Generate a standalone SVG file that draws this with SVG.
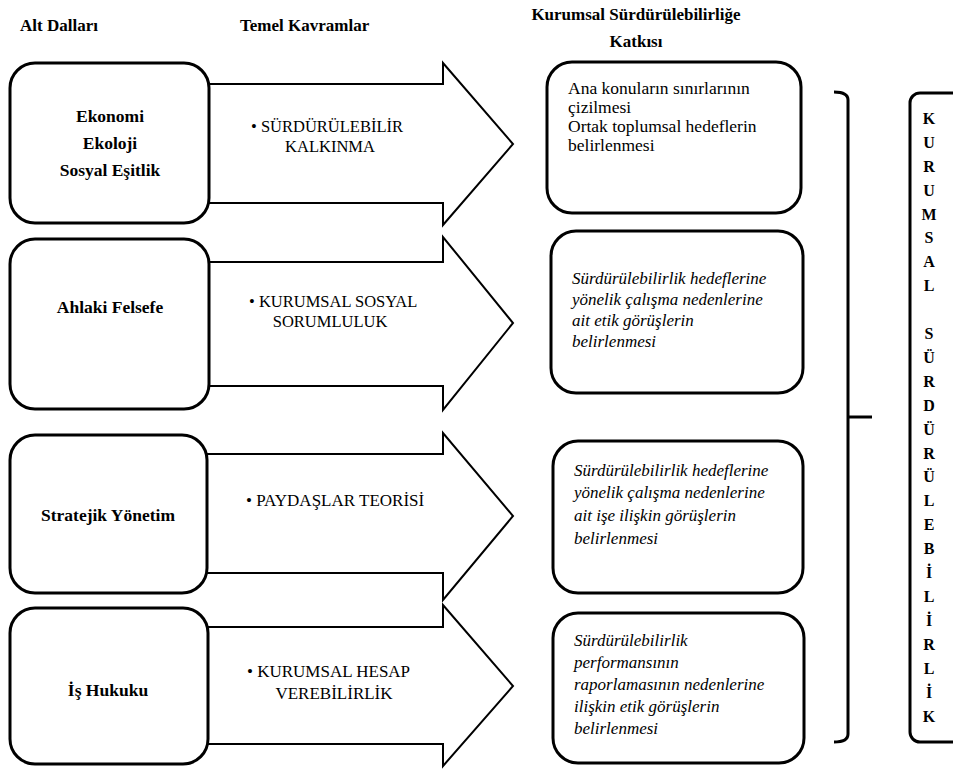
<svg xmlns="http://www.w3.org/2000/svg" width="953" height="769" viewBox="0 0 953 769">
<style>
text{font-family:"Liberation Serif","DejaVu Serif",serif;fill:#000}
.hd{font-size:17px;font-weight:bold}
.lb{font-size:17.5px;font-weight:bold;text-anchor:middle}
.ar{font-size:16.5px}
.ar2{font-size:17px}
.mid{text-anchor:middle}
.rt{font-size:17.5px}
.it{font-size:17px;font-style:italic}
.vt{font-size:16px;font-weight:bold;text-anchor:middle}
.box{fill:#fff;stroke:#000;stroke-width:3}
.arrow{fill:#fff;stroke:#000;stroke-width:2;stroke-linejoin:miter}
.br{fill:none;stroke:#000;stroke-width:3}
</style>
<rect width="953" height="769" fill="#fff"/>
<g id="headers">
<text class="hd" x="20" y="31">Alt Dalları</text>
<text class="hd" x="240" y="31">Temel Kavramlar</text>
<text class="hd" x="636" y="20" text-anchor="middle">Kurumsal Sürdürülebilirliğe</text>
<text class="hd" x="636" y="47" text-anchor="middle">Katkısı</text>
</g>
<g id="connectors">
<polygon class="arrow" points="200,84 443,84 443,63 513,144 443,225 443,203 200,203"/>
<polygon class="arrow" points="200,262 443,262 443,237 513,323 443,410 443,386 200,386"/>
<polygon class="arrow" points="200,454 443,454 443,433 513,516 443,600 443,573 200,573"/>
<polygon class="arrow" points="200,627 443,627 443,605 513,686 443,766 443,744 200,744"/>
<path class="br" d="M834,92 Q848,92 848,100 L848,734 Q848,742 834,742"/>
<path class="br" d="M848,417 L872,417"/>
</g>
<g id="node-ekonomi">
<rect class="box" x="10" y="63" width="199" height="160" rx="25"/>
<text class="lb" x="110" y="122">Ekonomi</text>
<text class="lb" x="110" y="149">Ekoloji</text>
<text class="lb" x="110" y="176">Sosyal Eşitlik</text>
</g>
<g id="node-ahlaki">
<rect class="box" x="10" y="239" width="199" height="170" rx="25"/>
<text class="lb" x="110" y="313">Ahlaki Felsefe</text>
</g>
<g id="node-stratejik">
<rect class="box" x="10" y="435" width="197" height="158" rx="25"/>
<text class="lb" x="108" y="521">Stratejik Yönetim</text>
</g>
<g id="node-is">
<rect class="box" x="10" y="608" width="198" height="156" rx="25"/>
<text class="lb" x="108" y="696">İş Hukuku</text>
</g>
<g id="concept-1">
<text class="ar" x="251" y="132">• SÜRDÜRÜLEBİLİR</text>
<text class="ar mid" x="330" y="152">KALKINMA</text>
</g>
<g id="concept-2">
<text class="ar" x="249" y="307">• KURUMSAL SOSYAL</text>
<text class="ar mid" x="330" y="327">SORUMLULUK</text>
</g>
<g id="concept-3">
<text class="ar2" x="246" y="506">• PAYDAŞLAR TEORİSİ</text>
</g>
<g id="concept-4">
<text class="ar2" x="247" y="677">• KURUMSAL HESAP</text>
<text class="ar2 mid" x="334" y="699">VEREBİLİRLİK</text>
</g>
<g id="katki-1">
<rect class="box" x="547" y="62" width="254" height="151" rx="25"/>
<text class="rt" x="568" y="94">Ana konuların sınırlarının</text>
<text class="rt" x="568" y="113">çizilmesi</text>
<text class="rt" x="568" y="132">Ortak toplumsal hedeflerin</text>
<text class="rt" x="568" y="151">belirlenmesi</text>
</g>
<g id="katki-2">
<rect class="box" x="551" y="231" width="252" height="162" rx="25"/>
<text class="it" x="572" y="284">Sürdürülebilirlik hedeflerine</text>
<text class="it" x="572" y="305">yönelik çalışma nedenlerine</text>
<text class="it" x="572" y="326">ait etik görüşlerin</text>
<text class="it" x="572" y="347">belirlenmesi</text>
</g>
<g id="katki-3">
<rect class="box" x="553" y="441" width="250" height="152" rx="25"/>
<text class="it" x="574" y="476">Sürdürülebilirlik hedeflerine</text>
<text class="it" x="574" y="498">yönelik çalışma nedenlerine</text>
<text class="it" x="574" y="521">ait işe ilişkin görüşlerin</text>
<text class="it" x="574" y="544">belirlenmesi</text>
</g>
<g id="katki-4">
<rect class="box" x="553" y="613" width="251" height="150" rx="25"/>
<text class="it" x="574" y="646">Sürdürülebilirlik</text>
<text class="it" x="574" y="668">performansının</text>
<text class="it" x="574" y="690">raporlamasının nedenlerine</text>
<text class="it" x="574" y="712">ilişkin etik görüşlerin</text>
<text class="it" x="574" y="734">belirlenmesi</text>
</g>
<g id="kurumsal-surdurulebilirlik">
<rect class="box" x="910" y="93" width="60" height="649" rx="10"/>
<text class="vt" x="929" y="124">K</text>
<text class="vt" x="929" y="148">U</text>
<text class="vt" x="929" y="172">R</text>
<text class="vt" x="929" y="196">U</text>
<text class="vt" x="929" y="220">M</text>
<text class="vt" x="929" y="243">S</text>
<text class="vt" x="929" y="267">A</text>
<text class="vt" x="929" y="291">L</text>
<text class="vt" x="929" y="339">S</text>
<text class="vt" x="929" y="363">Ü</text>
<text class="vt" x="929" y="387">R</text>
<text class="vt" x="929" y="411">D</text>
<text class="vt" x="929" y="435">Ü</text>
<text class="vt" x="929" y="459">R</text>
<text class="vt" x="929" y="482">Ü</text>
<text class="vt" x="929" y="506">L</text>
<text class="vt" x="929" y="530">E</text>
<text class="vt" x="929" y="554">B</text>
<text class="vt" x="929" y="578">İ</text>
<text class="vt" x="929" y="602">L</text>
<text class="vt" x="929" y="626">İ</text>
<text class="vt" x="929" y="650">R</text>
<text class="vt" x="929" y="674">L</text>
<text class="vt" x="929" y="698">İ</text>
<text class="vt" x="929" y="722">K</text>
</g>
</svg>
